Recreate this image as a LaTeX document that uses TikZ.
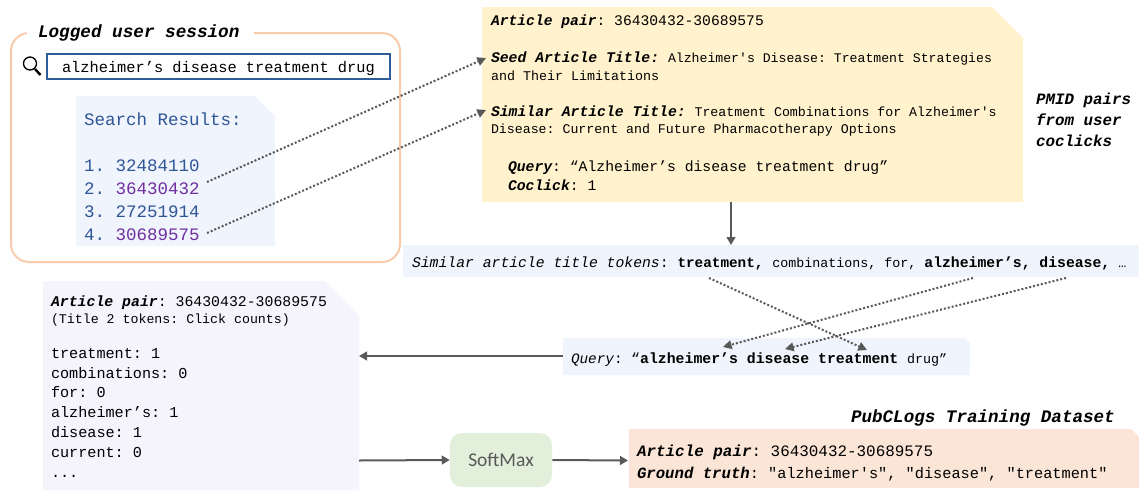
\documentclass[tikz,border=0pt]{standalone}
\usepackage{fontspec}
\usetikzlibrary{arrows.meta}
\newfontfamily\monofam{Liberation Mono}
\newfontfamily\softfont{Carlito}
\newcommand\cw[1]{\fontsize{\fpeval{#1*1.25}pt}{\fpeval{#1*1.5}pt}\selectfont}
\newcommand\bi{\bfseries\itshape}
\definecolor{peachline}{HTML}{F8CBAD}
\definecolor{searchblue}{HTML}{2F5C99}
\definecolor{resblue}{HTML}{F0F4FC}
\definecolor{resink}{HTML}{2F5597}
\definecolor{respurple}{HTML}{7030A0}
\definecolor{yellowdoc}{HTML}{FFF2CC}
\definecolor{lilacdoc}{HTML}{F5F3FB}
\definecolor{peachdoc}{HTML}{FBE5D6}
\definecolor{softgreen}{HTML}{E2EFDA}
\definecolor{arrowgray}{HTML}{595959}
\tikzset{
  x=0.75pt,y=-0.75pt,
  txt/.style={anchor=base west,inner sep=0pt,outer sep=0pt,text=black,font=\monofam\frenchspacing},
  flow/.style={draw=arrowgray,line width=1.5pt,-{Triangle[length=6pt,width=6.5pt]}},
  dots/.style={draw=arrowgray,line width=1.5pt,dash pattern=on 1.5pt off 1.5pt,-{Triangle[length=6.5pt,width=6.5pt]}},
}
% name, x0,y0,x1,y1, snip, colour
\newcommand\snipdoc[7]{%
  \fill[#7] (#2,#3) -- ({#4-#6},#3) -- (#4,{#3+#6}) -- (#4,#5) -- (#2,#5) -- cycle;
  \node[inner sep=0pt,outer sep=0pt,minimum width={\fpeval{(#4-#2)*0.75}pt},minimum height={\fpeval{(#5-#3)*0.75}pt}] (#1) at ({(#2+#4)/2},{(#3+#5)/2}) {};
}
\begin{document}
\begin{tikzpicture}
\useasboundingbox (0,0) rectangle (1139,490);
% session
\node[draw=peachline,line width=1.5pt,rounded corners=13.5pt,inner sep=0pt,minimum width={\fpeval{389*0.75}pt},minimum height={\fpeval{229*0.75}pt}] (session) at (205.5,147.5) {};
\node[fill=white,inner sep=0pt,minimum width={\fpeval{227*0.75}pt},minimum height=14pt] (sessiongap) at (140.5,33) {};
\node[txt] (sessiontitle) at (38,37) {\cw{10.6}\bi Logged user session};
\node[draw=searchblue,line width=1.1pt,inner sep=0pt,minimum width={\fpeval{343*0.75}pt},minimum height={\fpeval{25*0.75}pt}] (searchbox) at (218.5,66.5) {};
\node[txt] (searchtext) at (62,72) {\cw{9.2}alzheimer’s disease treatment drug};
\draw[black,line width=1pt] (30,63.5) circle (6.5);
\draw[black,line width=1.8pt] (35,69) -- (40.5,75);
% results
\snipdoc{results}{76}{96}{275}{246}{20}{resblue}
\node[txt,text=resink] (restitle) at (84,125) {\cw{10.5}Search Results:};
\node[txt,text=resink] (res1) at (84,171) {\cw{10.5}1. 32484110};
\node[txt,text=resink] (res2) at (84,194) {\cw{10.5}2. \textcolor{respurple}{36430432}};
\node[txt,text=resink] (res3) at (84,217) {\cw{10.5}3. 27251914};
\node[txt,text=resink] (res4) at (84,240) {\cw{10.5}4. \textcolor{respurple}{30689575}};
% yellow
\snipdoc{pairdoc}{482}{7}{1023}{202}{31}{yellowdoc}
\node[txt] (pairline) at (491,25) {\cw{8.8}{\bi Article pair}: 36430432-30689575};
\node[txt] (seedline) at (491,62) {\cw{8.85}{\bi Seed Article Title:} \cw{7.9}Alzheimer's Disease: Treatment Strategies};
\node[txt] (seedline2) at (491,80) {\cw{8}and Their Limitations};
\node[txt] (simline) at (491,116) {\cw{8.85}{\bi Similar Article Title:} \cw{7.95}Treatment Combinations for Alzheimer's};
\node[txt] (simline2) at (491,133) {\cw{7.95}Disease: Current and Future Pharmacotherapy Options};
\node[txt] (queryline) at (508,171) {\cw{8.84}{\bi Query}: “Alzheimer’s disease treatment drug”};
\node[txt] (coclick) at (508,190) {\cw{8.84}{\bi Coclick}: 1};
\node[txt] (pmid1) at (1036,104) {\cw{9.5}\bi PMID pairs};
\node[txt] (pmid2) at (1036,125) {\cw{9.5}\bi from user};
\node[txt] (pmid3) at (1036,146) {\cw{9.5}\bi coclicks};
% tokens
\node[fill=resblue,inner sep=0pt,minimum width={\fpeval{736*0.75}pt},minimum height={\fpeval{32*0.75}pt}] (tokens) at (771,261) {};
\node[txt] (tokentext) at (412,267) {\cw{8.85}{\itshape Similar article title tokens}: {\bfseries\cw{8.6}treatment,} \cw{8}combinations, for, {\bfseries\cw{8.85}alzheimer’s, disease,} …};
% query
\snipdoc{querydoc}{563}{338}{970}{375}{5}{resblue}
\node[txt] (querytext) at (571,363) {\cw{8.6}{\itshape Query}: \cw{8.9}“{\bfseries alzheimer’s disease treatment} \cw{8}drug”};
% lilac doc
\snipdoc{countdoc}{43}{281}{359}{490}{34}{lilacdoc}
\node[txt] (ct1) at (51,306) {\cw{8.9}{\bi Article pair}: 36430432-30689575};
\node[txt] (ct2) at (51,323) {\cw{7.96}(Title 2 tokens: Click counts)};
\node[txt] (ct3) at (51,358) {\cw{9.1}treatment: 1};
\node[txt] (ct4) at (51,378) {\cw{9.1}combinations: 0};
\node[txt] (ct5) at (51,397) {\cw{9.1}for: 0};
\node[txt] (ct6) at (51,417) {\cw{9.1}alzheimer’s: 1};
\node[txt] (ct7) at (51,437) {\cw{9.1}disease: 1};
\node[txt] (ct8) at (51,457) {\cw{9.1}current: 0};
\node[txt] (ct9) at (51,477) {\cw{9.1}...};
% softmax
\node[fill=softgreen,rounded corners=9pt,inner sep=0pt,minimum width={\fpeval{102*0.75}pt},minimum height={\fpeval{54*0.75}pt},text=arrowgray] (softmax) at (501,460) {\softfont\fontsize{14.6pt}{16pt}\selectfont SoftMax};
% dataset
\snipdoc{dataset}{629}{429}{1139}{488}{8}{peachdoc}
\node[txt] (dstitle) at (851,422) {\cw{10.55}\bi PubCLogs Training Dataset};
\node[txt] (ds1) at (637,456) {\cw{9.55}{\bi Article pair}: 36430432-30689575};
\node[txt] (ds2) at (637,478) {\cw{9.4}{\bi Ground truth}\cw{9.17}: "alzheimer's", "disease", "treatment"};
% connector ends
\coordinate (from2) at (207,182);
\coordinate (from4) at (207,233);
\coordinate (toseed) at (486,58);
\coordinate (tosim) at (486,110);
\coordinate (pairout) at (731,202);
\coordinate (tokensin) at (731,245);
\coordinate (tktreat) at (709,278);
\coordinate (tkalz) at (973,278);
\coordinate (tkdis) at (1066,278);
\coordinate (qtreat) at (867,350);
\coordinate (qalz) at (723,347);
\coordinate (qdis) at (785,349);
\coordinate (qleft) at (563,356);
\coordinate (cdin) at (359,356);
\coordinate (cdout) at (359,460.5);
\coordinate (dsin) at (628,460.5);
% connectors
\draw[dots] (from2) -- (toseed);
\draw[dots] (from4) -- (tosim);
\draw[flow] (pairout) -- (tokensin);
\draw[dots] (tktreat) -- (qtreat);
\draw[dots] (tkalz) -- (qalz);
\draw[dots] (tkdis) -- (qdis);
\draw[flow] (qleft) -- (cdin);
\draw[flow] (cdout) -- (softmax.west);
\draw[flow] (softmax.east) -- (dsin);
\end{tikzpicture}
\end{document}
